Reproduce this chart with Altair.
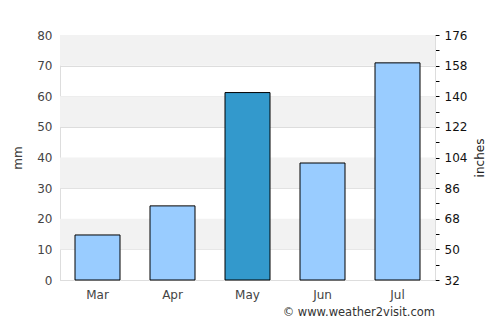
import altair as alt
import pandas as pd

months = ["Mar", "Apr", "May", "Jun", "Jul"]
rain_mm = [14.7, 24.2, 61.2, 38.2, 70.9]
highlight = [False, False, True, False, False]
band_lo = [10, 30, 50, 70]
band_hi = [20, 40, 60, 80]
right_ticks = [32, 41, 50, 59, 68, 77, 86, 95, 104, 113, 122, 131, 140, 149, 158, 167, 176]

FONT = "DejaVu Sans"

df = pd.DataFrame({"month": months, "mm": rain_mm, "hl": highlight})
bands = pd.DataFrame({"lo": band_lo, "hi": band_hi})
rt = pd.DataFrame({"v": right_ticks})

yscale = alt.Scale(domain=[0, 80], nice=False)

stripes = alt.Chart(bands).mark_rect(color="#f2f2f2").encode(
    y=alt.Y("lo:Q", scale=yscale,
            axis=alt.Axis(values=[0, 10, 20, 30, 40, 50, 60, 70, 80], title="mm",
                          grid=True, gridColor="#dddddd", ticks=False, labelPadding=8,
                          labelColor="#444444", labelFontSize=12, labelFont=FONT,
                          titleFont=FONT, titleFontSize=12, titleFontWeight="normal",
                          titleColor="#444444", titlePadding=12, domainColor="#dddddd")),
    y2="hi:Q",
)

bars = alt.Chart(df).mark_bar(stroke="black", strokeWidth=1).encode(
    x=alt.X("month:N", sort=months, scale=alt.Scale(paddingInner=0.4, paddingOuter=0.2),
            axis=alt.Axis(title=None, labelAngle=0, ticks=False, labelPadding=9,
                          labelColor="#444444", labelFontSize=12, labelFont=FONT,
                          domainColor="#dddddd")),
    y=alt.Y("mm:Q", scale=yscale, axis=None),
    color=alt.Color("hl:N", scale=alt.Scale(domain=[False, True], range=["#99ccff", "#3399cc"]),
                    legend=None),
)

right = alt.Chart(rt).mark_tick(opacity=0).encode(
    y=alt.Y("v:Q", scale=alt.Scale(domain=[32, 176], nice=False),
            axis=alt.Axis(orient="right", values=right_ticks, title="inches",
                          labelExpr="(datum.value - 32) % 18 == 0 ? datum.label : ''",
                          grid=False, tickSize=4, tickColor="black", labelColor="#111111",
                          labelFontSize=12, labelFont=FONT, labelPadding=5,
                          titleFont=FONT, titleFontSize=12, titleFontWeight="normal",
                          titleColor="#222222", titleAngle=270, titlePadding=20,
                          domainColor="#dddddd")),
)

footer = alt.Chart(pd.DataFrame({"t": ["© www.weather2visit.com"]})).mark_text(
    align="right", baseline="middle", font=FONT, fontSize=11.5, color="#333333"
).encode(x=alt.value(375), y=alt.value(278), text="t:N")

chart = alt.layer(stripes, bars, right, footer).resolve_scale(y="independent").properties(
    width=375, height=245,
    autosize=alt.AutoSizeParams(type="none"),
    padding={"left": 60, "top": 35, "right": 65, "bottom": 45},
    background="white",
).configure_view(stroke="#dddddd")

chart.save("out.html", embed_options={"renderer": "svg", "actions": False})
